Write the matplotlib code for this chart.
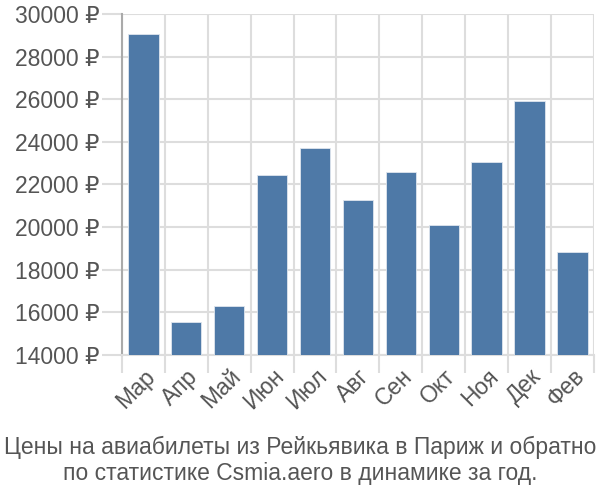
import numpy as np
import matplotlib
matplotlib.use("Agg")
import matplotlib.pyplot as plt

plt.rcParams['font.family'] = ['Liberation Sans', 'DejaVu Sans']

months = ["Мар", "Апр", "Май", "Июн", "Июл", "Авг", "Сен", "Окт", "Ноя", "Дек", "Фев"]
prices = [29050, 15560, 16300, 22450, 23730, 21290, 22590, 20100, 23040, 25920, 18850]
yticks = [14000, 16000, 18000, 20000, 22000, 24000, 26000, 28000, 30000]
title = ("Цены на авиабилеты из Рейкьявика в Париж и обратно\n"
         "по статистике Csmia.aero в динамике за год.")

grid_c = "#dddddd"
text_c = "#555555"

fig = plt.figure(figsize=(6, 5), dpi=100)
ax = fig.add_axes([0.203, 0.29, 0.787, 0.682])

x = np.arange(len(months))
ax.bar(x, prices, width=0.71, color="#4e79a7", edgecolor="#dfe6ee", linewidth=0.6, zorder=3)

ax.set_xlim(-0.5, len(months) - 0.5)
ax.set_ylim(14000, 30000)

ax.set_yticks(yticks)
ax.set_yticklabels([f"{v} ₽" for v in yticks])
ax.set_xticks(x)
ax.set_xticklabels(months, rotation=45, ha="right", rotation_mode="anchor")
ax.set_xticks(np.arange(len(months) + 1) - 0.5, minor=True)

ax.tick_params(axis="y", length=14.4, width=1.5, color=grid_c, labelsize=16.5, labelcolor=text_c, pad=1.5)
ax.tick_params(axis="x", which="major", length=0, labelsize=16.5, labelcolor=text_c, pad=7)
ax.tick_params(axis="x", which="minor", length=13, width=1.5, color=grid_c)

ax.grid(True, axis="y", color=grid_c, linewidth=1.5, zorder=0)
ax.grid(True, axis="x", which="minor", color=grid_c, linewidth=1.5, zorder=0)

for s in ["top", "right"]:
    ax.spines[s].set_visible(False)
ax.spines["bottom"].set_color(grid_c)
ax.spines["bottom"].set_linewidth(1.5)
ax.spines["left"].set_color("#aaaaaa")
ax.spines["left"].set_linewidth(1.5)

fig.text(0.5, 0.03, title, ha="center", va="bottom", fontsize=16.5, color=text_c, linespacing=1.15)

fig.savefig("out.png")
